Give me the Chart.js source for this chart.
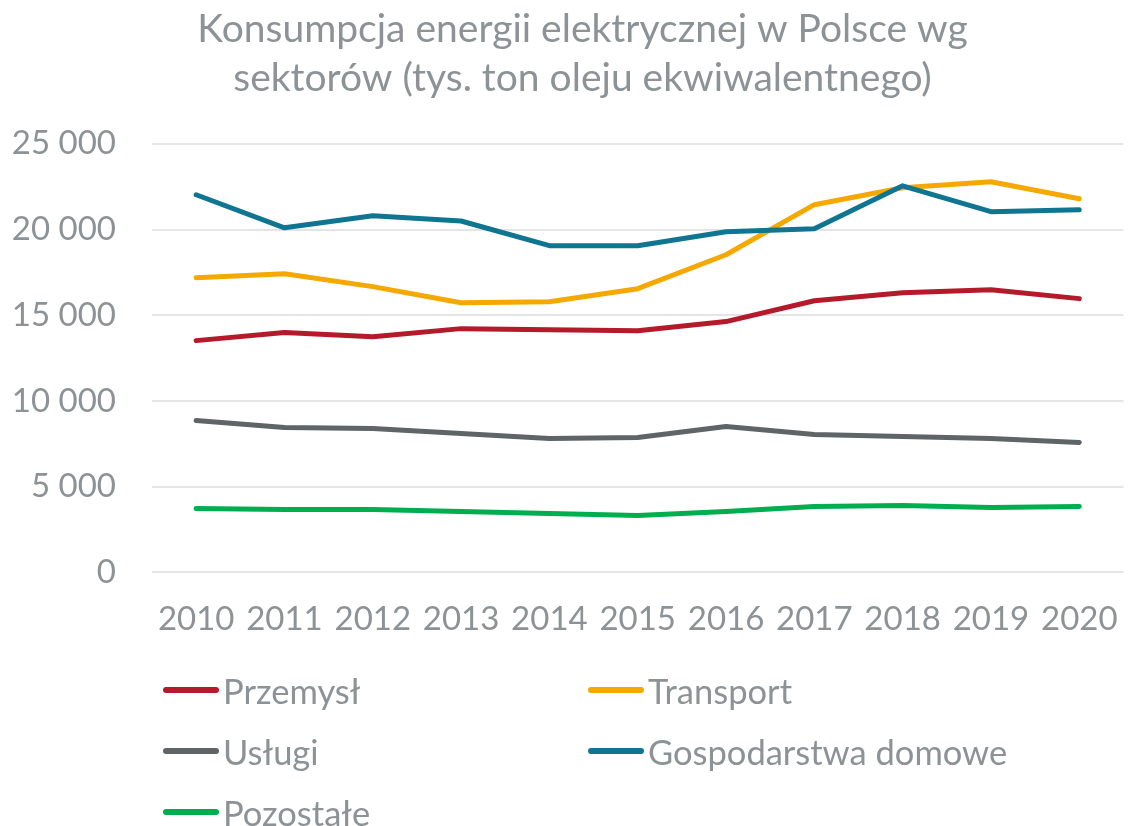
<!DOCTYPE html>
<html lang="pl">
<head>
<meta charset="utf-8">
<title>Konsumpcja energii elektrycznej w Polsce wg sektorów</title>
<script src="https://cdn.jsdelivr.net/npm/chart.js@4.4.1/dist/chart.umd.min.js"></script>
<style>
    html, body { margin: 0; padding: 0; background: #fff; }
    #wrap { position: relative; width: 1137px; height: 826px; }
    #legend {
        position: absolute; left: 0; top: 0; width: 1137px; height: 826px;
        pointer-events: none;
        font-family: Lato, "Open Sans", sans-serif; font-size: 34.5px; color: #8c9295;
    }
    .leg-item { position: absolute; display: flex; align-items: center; white-space: nowrap; }
    .leg-line { width: 56px; height: 6px; border-radius: 3px; margin-right: 4px; }
</style>
</head>
<body>
<div id="wrap">
    <canvas id="chart" width="1137" height="826"></canvas>
    <div id="legend"></div>
</div>
<script>
var years = ['2010', '2011', '2012', '2013', '2014', '2015', '2016', '2017', '2018', '2019', '2020'];
var yTicks = [0, 5000, 10000, 15000, 20000, 25000];

var przemysl = [13520, 13990, 13750, 14220, 14160, 14100, 14630, 15850, 16320, 16490, 15970];
var transport = [17190, 17420, 16670, 15730, 15790, 16550, 18530, 21450, 22440, 22790, 21800];
var uslugi = [8860, 8450, 8390, 8100, 7810, 7870, 8510, 8040, 7930, 7810, 7580];
var gospodarstwa = [22030, 20100, 20800, 20500, 19060, 19060, 19870, 20050, 22550, 21040, 21150];
var pozostale = [3730, 3670, 3670, 3550, 3440, 3320, 3550, 3850, 3900, 3790, 3850];

var textColor = '#8c9295';
var fontFamily = 'Lato, "Open Sans", sans-serif';

var series = [
    { name: 'Przemysł', data: przemysl, color: '#b51a2b' },
    { name: 'Transport', data: transport, color: '#f5a800' },
    { name: 'Usługi', data: uslugi, color: '#5f6466' },
    { name: 'Gospodarstwa domowe', data: gospodarstwa, color: '#107591' },
    { name: 'Pozostałe', data: pozostale, color: '#00ad4f' }
];

// pozycje legendy (dwie kolumny)
var legendPos = [
    { left: 163, top: 690 },
    { left: 588, top: 690 },
    { left: 163, top: 751 },
    { left: 588, top: 751 },
    { left: 163, top: 812 }
];

function formatNum(v) {
    return String(v).replace(/\B(?=(\d{3})+(?!\d))/g, ' ');
}

var datasets = series.map(function (s, i) {
    return {
        label: s.name,
        data: s.data,
        borderColor: s.color,
        backgroundColor: s.color,
        borderWidth: 5,
        borderCapStyle: 'round',
        borderJoinStyle: 'round',
        pointRadius: 0,
        tension: 0,
        order: series.length - i
    };
});

// tytuł lekko przesunięty w prawo, jak w oryginale
var titleShift = {
    id: 'titleShift',
    afterLayout: function (chart) {
        if (chart.titleBlock) {
            chart.titleBlock.left += 38;
        }
    }
};

new Chart(document.getElementById('chart').getContext('2d'), {
    type: 'line',
    data: { labels: years, datasets: datasets },
    plugins: [titleShift],
    options: {
        responsive: false,
        animation: false,
        layout: { padding: { left: 0, right: 10, top: 0, bottom: 168 } },
        plugins: {
            legend: { display: false },
            tooltip: { enabled: false },
            title: {
                display: true,
                text: ['Konsumpcja energii elektrycznej w Polsce wg', 'sektorów (tys. ton oleju ekwiwalentnego)'],
                color: textColor,
                font: { family: fontFamily, size: 39, weight: 'normal', lineHeight: 1.28 },
                padding: { top: 4, bottom: 40 }
            }
        },
        scales: {
            x: {
                offset: true,
                grid: { display: false },
                border: { display: false },
                ticks: {
                    color: textColor,
                    font: { family: fontFamily, size: 33 },
                    padding: 19,
                    maxRotation: 0,
                    autoSkip: false
                }
            },
            y: {
                min: 0,
                max: 25000,
                afterFit: function (scale) { scale.width = 152; },
                afterBuildTicks: function (scale) {
                    scale.ticks = yTicks.map(function (v) { return { value: v }; });
                },
                grid: { color: '#e5e5e5', lineWidth: 2, drawTicks: false },
                border: { display: false },
                ticks: {
                    color: textColor,
                    font: { family: fontFamily, size: 33 },
                    padding: 36,
                    callback: function (v) { return formatNum(v); }
                }
            }
        }
    }
});

// legenda HTML
var legendEl = document.getElementById('legend');
series.forEach(function (s, i) {
    var item = document.createElement('div');
    item.className = 'leg-item';
    item.style.left = legendPos[i].left + 'px';
    item.style.top = (legendPos[i].top - 22) + 'px';
    item.style.height = '44px';

    var line = document.createElement('span');
    line.className = 'leg-line';
    line.style.background = s.color;

    var label = document.createElement('span');
    label.textContent = s.name;

    item.appendChild(line);
    item.appendChild(label);
    legendEl.appendChild(item);
});
</script>
</body>
</html>
